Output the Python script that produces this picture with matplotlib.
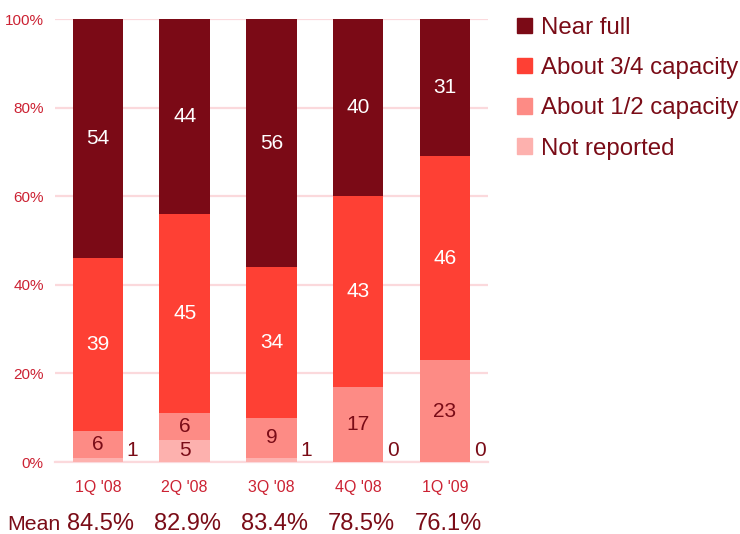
import matplotlib
matplotlib.use("Agg")
import matplotlib.pyplot as plt
from matplotlib.patches import Patch
import numpy as np

plt.rcParams['font.family'] = ['Liberation Sans', 'DejaVu Sans']

categories = ["1Q '08", "2Q '08", "3Q '08", "4Q '08", "1Q '09"]
not_reported = [1, 5, 1, 0, 0]
about_half = [6, 6, 9, 17, 23]
about_three_quarters = [39, 45, 34, 43, 46]
near_full = [54, 44, 56, 40, 31]
means = ["84.5%", "82.9%", "83.4%", "78.5%", "76.1%"]
yticks = [0, 20, 40, 60, 80, 100]

series = [
    ("Not reported", not_reported, "#fdb1ae", "#7a0c17"),
    ("About 1/2 capacity", about_half, "#fd8b85", "#7a0c17"),
    ("About 3/4 capacity", about_three_quarters, "#fe4034", "white"),
    ("Near full", near_full, "#7b0a16", "white"),
]

dark = "#7a0c17"
tickred = "#cc2233"

fig = plt.figure(figsize=(7.4, 5.34), dpi=100)
ax = fig.add_axes([0.0743, 0.1348, 0.585, 0.8296])

x = np.arange(len(categories))
width = 0.58
bottom = np.zeros(len(categories))
handles = {}
for name, vals, color, tcolor in series:
    vals = np.array(vals, dtype=float)
    ax.bar(x, vals, width, bottom=bottom, color=color, zorder=3)
    handles[name] = Patch(color=color)
    for i, v in enumerate(vals):
        if name == "Not reported" and v < 3:
            ax.text(x[i] + width / 2 + 0.04, bottom[i] + 2.6, f"{int(v)}",
                    ha="left", va="center", fontsize=15, color=dark, zorder=4)
        else:
            ax.text(x[i], bottom[i] + v / 2, f"{int(v)}", ha="center",
                    va="center", fontsize=15, color=tcolor, zorder=4)
    bottom += vals

ax.set_xlim(-0.494, 4.494)
ax.set_ylim(0, 100)
ax.set_yticks(yticks)
ax.set_yticklabels([f"{t}%" for t in yticks], color=tickred, fontsize=11)
ax.set_xticks(x)
ax.set_xticklabels(categories, color=tickred, fontsize=11.5)
ax.tick_params(axis="both", length=0)
ax.tick_params(axis="x", pad=13)
ax.tick_params(axis="y", pad=8)
ax.grid(axis="y", color="#fbd9dc", linewidth=1.6, zorder=0)
ax.set_axisbelow(True)
for s in ax.spines.values():
    s.set_visible(False)
ax.spines['bottom'].set_visible(True)
ax.spines['bottom'].set_color("#fbd9dc")
ax.spines['bottom'].set_linewidth(1.6)

# Mean row
trans = ax.get_xaxis_transform()
fig.text(7 / 740, 0.1348 - 0.14 * 0.8296, "Mean", ha="left", va="center",
         fontsize=15.3, color=dark)
for i, m in enumerate(means):
    ax.text(x[i] + 0.035, -0.14, m, transform=trans, ha="center", va="center",
            fontsize=17, color=dark, clip_on=False)

order = ["Near full", "About 3/4 capacity", "About 1/2 capacity", "Not reported"]
leg = fig.legend([handles[n] for n in order], order, loc="upper left",
                 bbox_to_anchor=(0.669, 1.009), frameon=False, fontsize=17.3,
                 handlelength=0.62, handleheight=0.62, handletextpad=0.4,
                 labelspacing=0.76, labelcolor=dark)

fig.savefig("out.png", dpi=100)
